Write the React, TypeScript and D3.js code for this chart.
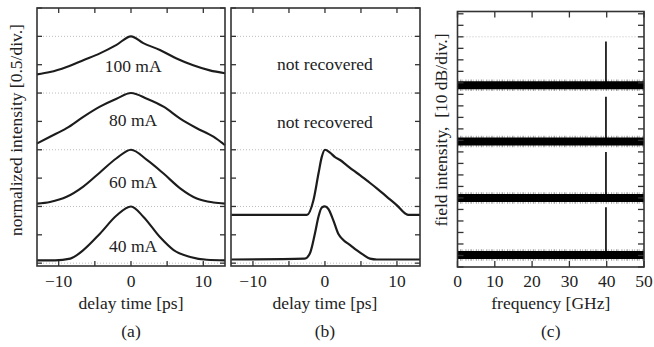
import * as d3 from "d3"

// panel (a): autocorrelation traces, [delay ps, stacked intensity]
const currents = ["100 mA", "80 mA", "60 mA", "40 mA"]
const trace100: [number, number][] = [
  [-13, 3.33], [-11.2, 3.37], [-8.9, 3.46], [-6.6, 3.58], [-4.3, 3.7], [-2.0, 3.85], [0, 4.0],
  [1.7, 3.88], [4.0, 3.76], [6.3, 3.61], [8.6, 3.49], [10.9, 3.4], [13, 3.35],
]
const trace80: [number, number][] = [
  [-13, 2.11], [-11.2, 2.23], [-8.9, 2.38], [-6.6, 2.58], [-4.3, 2.76], [-2.0, 2.9], [0, 3.0],
  [2.2, 2.9], [4.5, 2.76], [6.8, 2.55], [9.1, 2.38], [11.4, 2.23], [13, 2.08],
]
const trace60: [number, number][] = [
  [-13, 1.05], [-11.2, 1.08], [-8.9, 1.17], [-6.6, 1.35], [-4.3, 1.6], [-2.0, 1.85], [0, 2.0],
  [2.2, 1.82], [4.5, 1.58], [6.8, 1.32], [9.1, 1.14], [11.4, 1.07], [13, 1.05],
]
const trace40: [number, number][] = [
  [-13, 0.05], [-10.5, 0.05], [-8.4, 0.08], [-6.6, 0.23], [-4.3, 0.52], [-2.0, 0.84], [0, 1.0],
  [1.7, 0.82], [4.0, 0.46], [5.9, 0.23], [8.2, 0.11], [10.5, 0.06], [13, 0.05],
]
const tracesA = [trace100, trace80, trace60, trace40]
const labelYA = [3.38, 2.42, 1.33, 0.19]

// panel (b): retrieved intensity profiles
const retrievedUpper: [number, number][] = [
  [-13, 0.85], [-2.5, 0.85], [-1.6, 1.11], [-0.9, 1.58], [-0.45, 1.87], [0, 2.0], [0.7, 1.95],
  [1.4, 1.87], [2.1, 1.82], [3.0, 1.73], [3.9, 1.64], [4.9, 1.55], [5.8, 1.46], [7.2, 1.32],
  [8.6, 1.17], [10.0, 1.02], [11.1, 0.88], [11.6, 0.85], [13.2, 0.85],
]
const retrievedLower: [number, number][] = [
  [-13, 0.065], [-2.8, 0.08], [-2.1, 0.17], [-1.4, 0.52], [-0.9, 0.82], [-0.45, 0.98], [0, 1.0],
  [0.45, 0.96], [1.15, 0.76], [1.85, 0.52], [2.55, 0.41], [3.5, 0.32], [4.4, 0.23], [5.3, 0.15],
  [6.25, 0.08], [7.2, 0.065], [13.2, 0.065],
]
const notRecoveredY = [3.4, 2.38]

// panel (c): RF spectra, noise floor and 40 GHz line [dB]
const floorLevels = [158, 109, 60, 10.5]
const peakLevels = [196, 148, 100, 52]
const peakFreq = 39.8

const xTicksDelay = [-10, -5, 0, 5, 10]
const xLabelsDelay = [-10, 0, 10]
const yTicksA = d3.range(0, 4.51, 0.5)
const gridA = [0, 1, 2, 3, 4]
const xTicksFreq = [0, 10, 20, 30, 40, 50]
const yTicksC = d3.range(0, 221, 10)

const font = "'Liberation Serif', 'Times New Roman', serif"
const ink = "#1c1c1c"
const textColor = "#222"
const frameColor = "#333"
const fs = 17.5

function fmt(v: number) {
  return v < 0 ? `\u2212${Math.abs(v)}` : `${v}`
}

function Frame({ x, y, xTicks, yTicks, tickLen }: any) {
  const [x0, x1] = x.range()
  const [y0, y1] = y.range()
  return (
    <g stroke={frameColor} strokeWidth={1.3} fill="none">
      {xTicks.map((t: number) => (
        <g key={"x" + t}>
          <line x1={x(t)} x2={x(t)} y1={y0} y2={y0 - tickLen} />
          <line x1={x(t)} x2={x(t)} y1={y1} y2={y1 + tickLen} />
        </g>
      ))}
      {yTicks.map((t: number) => (
        <g key={"y" + t}>
          <line x1={x0} x2={x0 + tickLen} y1={y(t)} y2={y(t)} />
          <line x1={x1} x2={x1 - tickLen} y1={y(t)} y2={y(t)} />
        </g>
      ))}
      <rect x={x0} y={y1} width={x1 - x0} height={y0 - y1} strokeWidth={1.6} />
    </g>
  )
}

export default function App() {
  const W = 654
  const H = 347

  // scales
  const xA = d3.scaleLinear().domain([-13, 13]).range([37, 225])
  const xB = d3.scaleLinear().domain([-13.05, 13.2]).range([231, 420])
  const yAB = d3.scaleLinear().domain([-0.05, 4.5]).range([266, 8])
  const xC = d3.scaleLinear().domain([0, 50]).range([457.5, 644])
  const yC = d3.scaleLinear().domain([0, 222]).range([267, 11.5])

  const lineA = d3.line<[number, number]>().x((d) => xA(d[0])).y((d) => yAB(d[1])).curve(d3.curveMonotoneX)
  const lineB = d3.line<[number, number]>().x((d) => xB(d[0])).y((d) => yAB(d[1])).curve(d3.curveMonotoneX)

  const tickLabelY = 287
  const axisTitleY = 309
  const panelTagY = 337

  return (
    <svg width={W} height={H} style={{ position: "absolute", left: 0, top: 0, background: "#fff" }} fontFamily={font}>
      <rect width={W} height={H} fill="#fff" />

      {/* dotted grid lines */}
      <g stroke="#bdbdbd" strokeWidth={1} strokeDasharray="1,2">
        {gridA.map((g) => (
          <line key={"ga" + g} x1={xA(-13)} x2={xA(13)} y1={yAB(g)} y2={yAB(g)} />
        ))}
        {gridA.map((g) => (
          <line key={"gb" + g} x1={xB(-13.05)} x2={xB(13.2)} y1={yAB(g)} y2={yAB(g)} />
        ))}
        <line x1={xC(0)} x2={xC(50)} y1={yC(200)} y2={yC(200)} />
      </g>

      {/* ---------- panel (a) ---------- */}
      {tracesA.map((tr, i) => (
        <path key={"ta" + i} d={lineA(tr) ?? ""} fill="none" stroke={ink} strokeWidth={2.1} />
      ))}
      {currents.map((c, i) => (
        <text key={c} x={xA(0.3)} y={yAB(labelYA[i])} fontSize={fs} textAnchor="middle" fill={textColor}>
          {c}
        </text>
      ))}
      <Frame x={xA} y={yAB} xTicks={xTicksDelay} yTicks={yTicksA} tickLen={5} />
      {xLabelsDelay.map((t) => (
        <text key={"la" + t} x={xA(t)} y={tickLabelY} fontSize={fs} textAnchor="middle" fill={textColor}>
          {fmt(t)}
        </text>
      ))}
      <text x={xA(0)} y={axisTitleY} fontSize={fs} textAnchor="middle" fill={textColor}>
        delay time [ps]
      </text>
      <text x={xA(0)} y={panelTagY} fontSize={fs} textAnchor="middle" fill={textColor}>
        (a)
      </text>
      <text transform={`translate(22,130) rotate(-90)`} fontSize={fs} textAnchor="middle" fill={textColor}>
        normalized intensity [0.5/div.]
      </text>

      {/* ---------- panel (b) ---------- */}
      <path d={lineB(retrievedUpper) ?? ""} fill="none" stroke={ink} strokeWidth={2.2} />
      <path d={lineB(retrievedLower) ?? ""} fill="none" stroke={ink} strokeWidth={2.2} />
      {notRecoveredY.map((v, i) => (
        <text key={"nr" + i} x={xB(0)} y={yAB(v)} fontSize={fs} textAnchor="middle" fill={textColor}>
          not recovered
        </text>
      ))}
      <Frame x={xB} y={yAB} xTicks={xTicksDelay} yTicks={yTicksA} tickLen={5} />
      {xLabelsDelay.map((t) => (
        <text key={"lb" + t} x={xB(t)} y={tickLabelY} fontSize={fs} textAnchor="middle" fill={textColor}>
          {fmt(t)}
        </text>
      ))}
      <text x={xB(0)} y={axisTitleY} fontSize={fs} textAnchor="middle" fill={textColor}>
        delay time [ps]
      </text>
      <text x={xB(0)} y={panelTagY} fontSize={fs} textAnchor="middle" fill={textColor}>
        (b)
      </text>

      {/* ---------- panel (c) ---------- */}
      {floorLevels.map((f, i) => (
        <g key={"sp" + i}>
          <line
            x1={xC(0)}
            x2={xC(50)}
            y1={yC(f)}
            y2={yC(f)}
            stroke="#000"
            strokeOpacity={0.35}
            strokeWidth={11.5}
            strokeDasharray="0.8,1.7,1.5,1,0.6,2.3,1.1,1.4"
          />
          <line x1={xC(0)} x2={xC(50)} y1={yC(f)} y2={yC(f)} stroke="#000" strokeWidth={8} />
          <line
            x1={xC(peakFreq)}
            x2={xC(peakFreq)}
            y1={yC(f)}
            y2={yC(peakLevels[i])}
            stroke="#000"
            strokeWidth={1.6}
          />
        </g>
      ))}
      <Frame x={xC} y={yC} xTicks={xTicksFreq} yTicks={yTicksC} tickLen={6} />
      {xTicksFreq.map((t) => (
        <text key={"lc" + t} x={xC(t)} y={tickLabelY} fontSize={fs} textAnchor="middle" fill={textColor}>
          {t}
        </text>
      ))}
      <text x={xC(25)} y={axisTitleY} fontSize={fs} textAnchor="middle" fill={textColor}>
        frequency [GHz]
      </text>
      <text x={xC(25)} y={panelTagY} fontSize={fs} textAnchor="middle" fill={textColor}>
        (c)
      </text>
      <text
        transform={`translate(447,130) rotate(-90)`}
        fontSize={fs}
        textAnchor="middle"
        fill={textColor}
        style={{ whiteSpace: "pre" }}
      >
        {"field intensity,  [10 dB/div.]"}
      </text>
    </svg>
  )
}
